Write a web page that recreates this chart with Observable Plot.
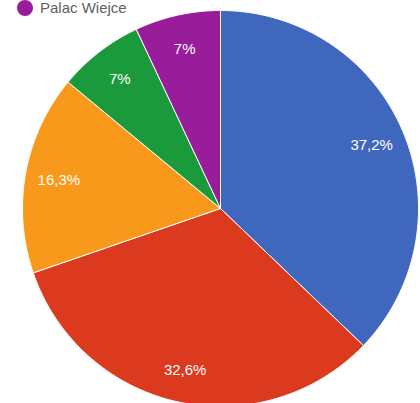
<!DOCTYPE html>
<html>
<head>
<meta charset="utf-8">
<script src="https://cdn.jsdelivr.net/npm/d3@7"></script>
<script src="https://cdn.jsdelivr.net/npm/@observablehq/plot@0.6"></script>
<style>
  html, body { margin: 0; padding: 0; background: #fff; overflow: hidden; }
  #wrap { position: relative; width: 420px; height: 403px; }
  #chart { position: absolute; left: 0; top: 0; }
  #legend { position: absolute; left: 17px; top: -1px; display: flex; align-items: center;
            font-family: "Liberation Sans", Arial, sans-serif; font-size: 15px; color: #5f5f5f; }
  #legend .sw { width: 16px; height: 16px; border-radius: 50%; margin-right: 7px; }
</style>
</head>
<body>
<div id="wrap">
  <div id="chart"></div>
  <div id="legend"></div>
</div>
<script>
const categories = ["Kategoria 1", "Kategoria 2", "Kategoria 3", "Kategoria 4", "Palac Wiejce"];
const values = [37.2, 32.6, 16.3, 7, 7];
const labels = ["37,2%", "32,6%", "16,3%", "7%", "7%"];
const legendItems = ["Palac Wiejce"];

const colors = ["#3f67be", "#db3a1e", "#f8991c", "#1b9a3b", "#991c9b"];

const arcs = d3.pie().sort(null).value(d => d.value)(
  categories.map((c, i) => ({category: c, value: values[i], label: labels[i]}))
);

// slice outlines in unit-circle coordinates (angle measured clockwise from 12 o'clock)
const outline = [];
for (const a of arcs) {
  const c = a.data.category;
  outline.push({category: c, x: 0, y: 0});
  const n = Math.max(2, Math.ceil((a.endAngle - a.startAngle) / (Math.PI / 360)));
  for (let k = 0; k <= n; k++) {
    const t = a.startAngle + (a.endAngle - a.startAngle) * k / n;
    outline.push({category: c, x: Math.sin(t), y: Math.cos(t)});
  }
  outline.push({category: c, x: 0, y: 0});
}
const labelRadius = 0.83;
const labelPts = arcs.map(a => {
  const t = (a.startAngle + a.endAngle) / 2;
  return {label: a.data.label, x: labelRadius * Math.sin(t), y: labelRadius * Math.cos(t)};
});

const chart = Plot.plot({
  width: 420,
  height: 403,
  margin: 0,
  x: {domain: [-1, 1], range: [22, 418], axis: null},
  y: {domain: [-1, 1], range: [406, 10], axis: null},
  color: {domain: categories, range: colors},
  style: {background: "transparent", overflow: "hidden"},
  marks: [
    Plot.line(outline, {x: "x", y: "y", z: "category", fill: "category", stroke: "#ffffff", strokeWidth: 1, strokeLinejoin: "round"}),
    Plot.text(labelPts, {x: "x", y: "y", text: "label", fill: "#ffffff", fontSize: 15,
      fontFamily: "Liberation Sans, Arial, sans-serif", textAnchor: "middle", dy: 1})
  ]
});
document.getElementById("chart").appendChild(chart);

const legend = document.getElementById("legend");
for (const name of legendItems) {
  const sw = document.createElement("div");
  sw.className = "sw";
  sw.style.background = colors[categories.indexOf(name)];
  const tx = document.createElement("span");
  tx.textContent = name;
  legend.appendChild(sw);
  legend.appendChild(tx);
}
</script>
</body>
</html>
